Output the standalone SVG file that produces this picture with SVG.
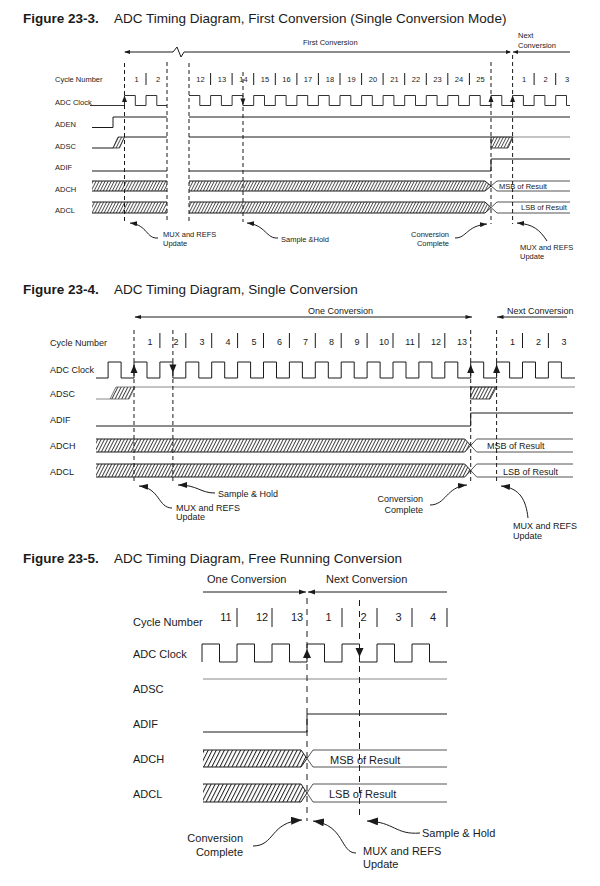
<svg xmlns="http://www.w3.org/2000/svg" width="600" height="886" viewBox="0 0 600 886">
<style>
text{font-family:"Liberation Sans",Arial,Helvetica,sans-serif;fill:#1a1a1a}
.title{font-size:13.5px}
.tb{font-weight:bold}
.s3{font-size:7.5px}
.s4{font-size:9px}
.s5{font-size:11px}
.mid{text-anchor:middle}
.end{text-anchor:end}
.w{fill:none;stroke:#1a1a1a;stroke-width:1}
.clk{fill:none;stroke:#333;stroke-width:1}
.g{fill:none;stroke:#888;stroke-width:1}
.r{fill:none;stroke:#555;stroke-width:1}
.d3{fill:none;stroke:#1a1a1a;stroke-width:1;stroke-dasharray:4 3}
.d5{fill:none;stroke:#1a1a1a;stroke-width:1;stroke-dasharray:6 5}
.bar{stroke:#1a1a1a;stroke-width:1}
.ah{fill:#1a1a1a;stroke:none}
.ann{fill:none;stroke:#1a1a1a;stroke-width:1}
</style>
<defs>
<pattern id="h3" patternUnits="userSpaceOnUse" width="2.7" height="10" patternTransform="rotate(27)"><line x1="0.5" y1="0" x2="0.5" y2="10" stroke="#222" stroke-width="0.8"/></pattern>
<pattern id="h4" patternUnits="userSpaceOnUse" width="2.95" height="10" patternTransform="rotate(27)"><line x1="0.5" y1="0" x2="0.5" y2="10" stroke="#222" stroke-width="0.85"/></pattern>
<pattern id="h5" patternUnits="userSpaceOnUse" width="3.6" height="10" patternTransform="rotate(27)"><line x1="0.5" y1="0" x2="0.5" y2="10" stroke="#222" stroke-width="1"/></pattern>
<marker id="m3" markerUnits="userSpaceOnUse" markerWidth="7" markerHeight="5" refX="7" refY="2.5" orient="auto"><path d="M0,0 L7,2.5 L0,5 z" fill="#1a1a1a"/></marker>
<marker id="m4" markerUnits="userSpaceOnUse" markerWidth="9" markerHeight="6" refX="9" refY="3" orient="auto"><path d="M0,0 L9,3 L0,6 z" fill="#1a1a1a"/></marker>
<marker id="m5" markerUnits="userSpaceOnUse" markerWidth="11" markerHeight="8" refX="11" refY="4" orient="auto"><path d="M0,0 L11,4 L0,8 z" fill="#1a1a1a"/></marker>
</defs>

<!-- ================= Figure 23-3 ================= -->
<g id="fig23-3">
<g id="f3-title">
<text class="title tb" x="23" y="22.5">Figure 23-3.</text>
<text class="title" x="114" y="22.5">ADC Timing Diagram, First Conversion (Single Conversion Mode)</text>
</g>
<g id="f3-span">
<path class="w" d="M125,52 H173 L177,47 L181,57 L184,52 H510"/>
<polygon class="ah" points="124,52 130,50 130,54"/>
<polygon class="ah" points="511,52 506,50 506,54"/>
<path class="w" d="M513,52 H570"/>
<polygon class="ah" points="513,52 518,50 518,54"/>
<text class="s3" x="303" y="45">First Conversion</text>
<text class="s3" x="518" y="38">Next</text>
<text class="s3" x="518" y="47.5">Conversion</text>
</g>
<g id="f3-labels">
<text class="s3" x="55" y="82">Cycle Number</text>
<text class="s3" x="55" y="105">ADC Clock</text>
<text class="s3" x="55" y="127">ADEN</text>
<text class="s3" x="55" y="149">ADSC</text>
<text class="s3" x="55" y="170">ADIF</text>
<text class="s3" x="55" y="192">ADCH</text>
<text class="s3" x="55" y="213">ADCL</text>
</g>
<g id="f3-cycles">
<text class="s3 mid" x="136.5" y="82">1</text>
<text class="s3 mid" x="158" y="82">2</text>
<text class="s3 mid" x="200.5" y="82">12</text>
<text class="s3 mid" x="222" y="82">13</text>
<text class="s3 mid" x="243.5" y="82">14</text>
<text class="s3 mid" x="265" y="82">15</text>
<text class="s3 mid" x="286.5" y="82">16</text>
<text class="s3 mid" x="308" y="82">17</text>
<text class="s3 mid" x="330" y="82">18</text>
<text class="s3 mid" x="351.5" y="82">19</text>
<text class="s3 mid" x="373" y="82">20</text>
<text class="s3 mid" x="394.5" y="82">21</text>
<text class="s3 mid" x="416" y="82">22</text>
<text class="s3 mid" x="437.5" y="82">23</text>
<text class="s3 mid" x="459" y="82">24</text>
<text class="s3 mid" x="480.5" y="82">25</text>
<text class="s3 mid" x="524" y="82">1</text>
<text class="s3 mid" x="545.5" y="82">2</text>
<text class="s3 mid" x="567" y="82">3</text>
<path class="bar" d="M146,73 V85 M210.6,73 V85 M232.1,73 V85 M253.7,73 V85 M275.3,73 V85 M296.9,73 V85 M318.4,73 V85 M340,73 V85 M361.6,73 V85 M383.1,73 V85 M404.7,73 V85 M426.3,73 V85 M447.8,73 V85 M469.4,73 V85 M534.1,73 V85 M555.7,73 V85"/>
</g>
<g id="f3-clock">
<path class="clk" d="M90,105.5 H124.5 V95.5 H135.3 V105.5 H146 V95.5 H156.8 V105.5 H167"/>
<path class="clk" d="M189,95.5 H199.8 V105.5 H210.6 V95.5 H221.4 V105.5 H232.1 V95.5 H242.9 V105.5 H253.7 V95.5 H264.5 V105.5 H275.3 V95.5 H286.1 V105.5 H296.9 V95.5 H307.7 V105.5 H318.4 V95.5 H329.2 V105.5 H340 V95.5 H350.8 V105.5 H361.6 V95.5 H372.3 V105.5 H383.1 V95.5 H393.9 V105.5 H404.7 V95.5 H415.5 V105.5 H426.3 V95.5 H437.1 V105.5 H447.8 V95.5 H458.6 V105.5 H469.4 V95.5 H480.2 V105.5 H491 V95.5 H501.8 V105.5 H512.6 V95.5 H523.4 V105.5 H534.1 V95.5 H544.9 V105.5 H555.7 V95.5 H566.5 V105.5 H570"/>
<polygon class="ah" points="124.5,95.5 122,102 127,102"/>
<polygon class="ah" points="240.4,98.5 245.4,98.5 242.9,105"/>
<polygon class="ah" points="491,95.5 488.5,102 493.5,102"/>
<polygon class="ah" points="512.6,95.5 510.1,102 515.1,102"/>
</g>
<g id="f3-aden">
<path class="w" d="M92,127.5 H113 V117 H167 M189,117 H570"/>
</g>
<g id="f3-adsc">
<path class="w" d="M92,148 H113"/>
<polygon points="113,148 118,137 124.5,137 119.5,148" fill="url(#h3)" stroke="#1a1a1a" stroke-width="0.8"/>
<path class="w" d="M124.5,137 H167 M189,137 H491"/>
<path class="g" d="M491,137 H570"/>
<polygon points="491,137 513,137 508,148 491,148" fill="url(#h3)" stroke="#1a1a1a" stroke-width="0.8"/>
</g>
<g id="f3-adif">
<path class="w" d="M92,171 H167 M189,171 H491 V159 H570"/>
</g>
<g id="f3-adch">
<rect x="92" y="181" width="75" height="10" fill="url(#h3)"/>
<path class="w" d="M92,181 H167 M92,191 H167"/>
<polygon points="189,181 485,181 491,186 485,191 189,191" fill="url(#h3)"/>
<path class="w" d="M189,181 H485 L491,186 L485,191 H189"/>
<path class="r" d="M570,181 H497 L491,186 L497,191 H570"/>
<text class="s3" x="499" y="189">MSB of Result</text>
</g>
<g id="f3-adcl">
<rect x="92" y="202" width="75" height="11" fill="url(#h3)"/>
<path class="w" d="M92,202 H167 M92,213 H167"/>
<polygon points="189,202 485,202 491,207.5 485,213 189,213" fill="url(#h3)"/>
<path class="w" d="M189,202 H485 L491,207.5 L485,213 H189"/>
<path class="r" d="M570,202 H497 L491,207.5 L497,213 H570"/>
<text class="s3" x="521" y="210">LSB of Result</text>
</g>
<g id="f3-dashes">
<path class="d3" d="M124.5,63 V222 M167,62 V222 M189,63 V222 M243,72 V222 M491,62 V224 M512.6,55 V224"/>
</g>
<g id="f3-notes">
<text class="s3" x="163" y="237">MUX and REFS</text>
<text class="s3" x="163" y="246">Update</text>
<text class="s3" x="281" y="242">Sample &amp;Hold</text>
<text class="s3 end" x="449" y="237">Conversion</text>
<text class="s3 end" x="449" y="246">Complete</text>
<text class="s3" x="520" y="250">MUX and REFS</text>
<text class="s3" x="520" y="259">Update</text>
</g>
</g>

<!-- ================= Figure 23-4 ================= -->
<g id="fig23-4">
<g id="f4-title">
<text class="title tb" x="23" y="294">Figure 23-4.</text>
<text class="title" x="114" y="294">ADC Timing Diagram, Single Conversion</text>
</g>
<g id="f4-span">
<path class="w" d="M135,317 H472"/>
<polygon class="ah" points="134.5,317 141,315 141,319"/>
<polygon class="ah" points="472,317 465.5,315 465.5,319"/>
<path class="w" d="M497,317 H567"/>
<polygon class="ah" points="497,317 503.5,315 503.5,319"/>
<text class="s4" x="308" y="313.5">One Conversion</text>
<text class="s4" x="507" y="313.5">Next Conversion</text>
</g>
<g id="f4-labels">
<text class="s4" x="50" y="345.5">Cycle Number</text>
<text class="s4" x="50" y="373">ADC Clock</text>
<text class="s4" x="50" y="397">ADSC</text>
<text class="s4" x="50" y="423">ADIF</text>
<text class="s4" x="50" y="449">ADCH</text>
<text class="s4" x="50" y="475">ADCL</text>
</g>
<g id="f4-cycles">
<text class="s4 mid" x="150" y="345">1</text>
<text class="s4 mid" x="176" y="345">2</text>
<text class="s4 mid" x="202" y="345">3</text>
<text class="s4 mid" x="228" y="345">4</text>
<text class="s4 mid" x="254" y="345">5</text>
<text class="s4 mid" x="279.5" y="345">6</text>
<text class="s4 mid" x="305.5" y="345">7</text>
<text class="s4 mid" x="331.5" y="345">8</text>
<text class="s4 mid" x="357" y="345">9</text>
<text class="s4 mid" x="384" y="345">10</text>
<text class="s4 mid" x="410" y="345">11</text>
<text class="s4 mid" x="436" y="345">12</text>
<text class="s4 mid" x="462" y="345">13</text>
<text class="s4 mid" x="512.5" y="345">1</text>
<text class="s4 mid" x="538.5" y="345">2</text>
<text class="s4 mid" x="564" y="345">3</text>
<path class="bar" d="M159.9,333 V348 M185.8,333 V348 M211.7,333 V348 M237.6,333 V348 M263.5,333 V348 M289.4,333 V348 M315.3,333 V348 M341.2,333 V348 M367.1,333 V348 M393,333 V348 M418.9,333 V348 M444.8,333 V348 M522.5,333 V348 M548.4,333 V348"/>
</g>
<g id="f4-clock">
<path class="w" d="M96,378 H108.1 V362 H121.1 V378 H134 V362 H147 V378 H159.9 V362 H172.9 V378 H185.8 V362 H198.8 V378 H211.7 V362 H224.7 V378 H237.6 V362 H250.6 V378 H263.5 V362 H276.5 V378 H289.4 V362 H302.4 V378 H315.3 V362 H328.3 V378 H341.2 V362 H354.2 V378 H367.1 V362 H380.1 V378 H393 V362 H406 V378 H418.9 V362 H431.9 V378 H444.8 V362 H457.8 V378 H470.7 V362 H483.7 V378 H496.6 V362 H509.6 V378 H522.5 V362 H535.5 V378 H548.4 V362 H561.4 V378 H575"/>
<polygon class="ah" points="134,364.5 130.5,373 137.5,373"/>
<polygon class="ah" points="169.4,364.5 176.4,364.5 172.9,373"/>
<polygon class="ah" points="470.7,364.5 467.2,373 474.2,373"/>
<polygon class="ah" points="496.6,364.5 493.1,373 500.1,373"/>
</g>
<g id="f4-adsc">
<path class="g" d="M96,399 H110"/>
<polygon points="110,399 116,387 135,387 129,399" fill="url(#h4)" stroke="#555" stroke-width="0.8"/>
<path class="g" d="M135,387 H575"/>
<polygon points="470.7,387 496.6,387 490,399 470.7,399" fill="url(#h4)" stroke="#1a1a1a" stroke-width="0.8"/>
</g>
<g id="f4-adif">
<path class="w" d="M96,426 H470.7 V413 H573"/>
</g>
<g id="f4-adch">
<polygon points="96,439 464.7,439 470.7,445.5 464.7,452 96,452" fill="url(#h4)"/>
<path class="w" d="M96,439 H464.7 L470.7,445.5 L464.7,452 H96"/>
<path class="r" d="M573,439 H476.7 L470.7,445.5 L476.7,452 H573"/>
<text class="s4" x="487" y="449">MSB of Result</text>
</g>
<g id="f4-adcl">
<polygon points="96,464 464.7,464 470.7,470.5 464.7,477 96,477" fill="url(#h4)"/>
<path class="w" d="M96,464 H464.7 L470.7,470.5 L464.7,477 H96"/>
<path class="r" d="M573,464 H476.7 L470.7,470.5 L476.7,477 H573"/>
<text class="s4" x="503" y="475">LSB of Result</text>
</g>
<g id="f4-dashes">
<path class="d3" d="M134,330 V483 M172.9,330 V483 M470.7,330 V483 M496.6,330 V483"/>
</g>
<g id="f4-notes">
<text class="s4" x="218" y="496.5">Sample &amp; Hold</text>
<text class="s4" x="176" y="510.5">MUX and REFS</text>
<text class="s4" x="176" y="519.5">Update</text>
<text class="s4 end" x="423" y="501.5">Conversion</text>
<text class="s4 end" x="423" y="512.5">Complete</text>
<text class="s4" x="513" y="529">MUX and REFS</text>
<text class="s4" x="513" y="538.5">Update</text>
</g>
</g>

<!-- ================= Figure 23-5 ================= -->
<g id="fig23-5">
<g id="f5-title">
<text class="title tb" x="23" y="562.5">Figure 23-5.</text>
<text class="title" x="114" y="562.5">ADC Timing Diagram, Free Running Conversion</text>
</g>
<g id="f5-span">
<path class="w" d="M203,592 H306"/>
<polygon class="ah" points="306,592 299,589.5 299,594.5"/>
<path class="w" d="M308,592 H447"/>
<polygon class="ah" points="308,592 315,589.5 315,594.5"/>
<text class="s5" x="207" y="583">One Conversion</text>
<text class="s5" x="326" y="583">Next Conversion</text>
</g>
<g id="f5-labels">
<text class="s5" x="133" y="626">Cycle Number</text>
<text class="s5" x="133" y="658">ADC Clock</text>
<text class="s5" x="133" y="693">ADSC</text>
<text class="s5" x="133" y="728">ADIF</text>
<text class="s5" x="133" y="763">ADCH</text>
<text class="s5" x="133" y="798">ADCL</text>
</g>
<g id="f5-cycles">
<text class="s5 mid" x="226" y="621">11</text>
<text class="s5 mid" x="262" y="621">12</text>
<text class="s5 mid" x="297" y="621">13</text>
<text class="s5 mid" x="328.5" y="621">1</text>
<text class="s5 mid" x="363.5" y="621">2</text>
<text class="s5 mid" x="398.5" y="621">3</text>
<text class="s5 mid" x="433" y="621">4</text>
<path class="bar" d="M237,608 V627 M272,608 V627 M342,608 V627 M377,608 V627 M412,608 V627 M447,608 V627"/>
</g>
<g id="f5-clock">
<path class="w" d="M202,662 V644 H219.5 V662 H237 V644 H254.5 V662 H272 V644 H289.5 V662 H307 V644 H324.5 V662 H342 V644 H359.5 V662 H377 V644 H394.5 V662 H412 V644 H429.5 V662 H447"/>
<polygon class="ah" points="307,649 303,658 311,658"/>
<polygon class="ah" points="355.5,648 363.5,648 359.5,657"/>
</g>
<g id="f5-adsc">
<path class="g" d="M203,679 H447"/>
</g>
<g id="f5-adif">
<path class="w" d="M203,732 H307 V714 H447"/>
</g>
<g id="f5-adch">
<polygon points="203,750 301,750 307,758.5 301,767 203,767" fill="url(#h5)"/>
<path class="w" d="M203,750 H301 L307,758.5 L301,767 H203"/>
<path class="r" d="M447,750 H313 L307,758.5 L313,767 H447"/>
<text class="s5" x="330" y="764">MSB of Result</text>
</g>
<g id="f5-adcl">
<polygon points="203,784 301,784 307,793 301,802 203,802" fill="url(#h5)"/>
<path class="w" d="M203,784 H301 L307,793 L301,802 H203"/>
<path class="r" d="M447,784 H313 L307,793 L313,802 H447"/>
<text class="s5" x="329" y="798">LSB of Result</text>
</g>
<g id="f5-dashes">
<path class="d5" d="M307,598 V821 M359.5,600 V815"/>
</g>
<g id="f5-notes">
<text class="s5 end" x="243" y="842">Conversion</text>
<text class="s5 end" x="243" y="855.5">Complete</text>
<text class="s5" x="363" y="855">MUX and REFS</text>
<text class="s5" x="363" y="868">Update</text>
<text class="s5" x="422" y="837">Sample &amp; Hold</text>
</g>
</g>

<!-- ================= Connectors (annotation arrows) ================= -->
<g id="connectors">
<path class="ann" marker-end="url(#m3)" d="M158,238 C146,239 148,225 130,223"/>
<path class="ann" marker-end="url(#m3)" d="M278,238 C266,239 266,225 247,223"/>
<path class="ann" marker-end="url(#m3)" d="M455,238 C467,238 466,226 487,224"/>
<path class="ann" marker-end="url(#m3)" d="M547,241 C540,230 533,224 517,223"/>
<path class="ann" marker-end="url(#m4)" d="M215,493 C200,493 198,485 178,485"/>
<path class="ann" marker-end="url(#m4)" d="M172,508 C158,508 160,488 139,486"/>
<path class="ann" marker-end="url(#m4)" d="M430,505 C446,505 446,487 467,485"/>
<path class="ann" marker-end="url(#m4)" d="M528,518 C526,500 520,488 501,486"/>
<path class="ann" marker-end="url(#m5)" d="M253,846 C275,846 270,822 302,820"/>
<path class="ann" marker-end="url(#m5)" d="M356,853 C340,853 345,825 313,821"/>
<path class="ann" marker-end="url(#m5)" d="M420,833 C395,835 395,822 367,821"/>
</g>
</svg>
